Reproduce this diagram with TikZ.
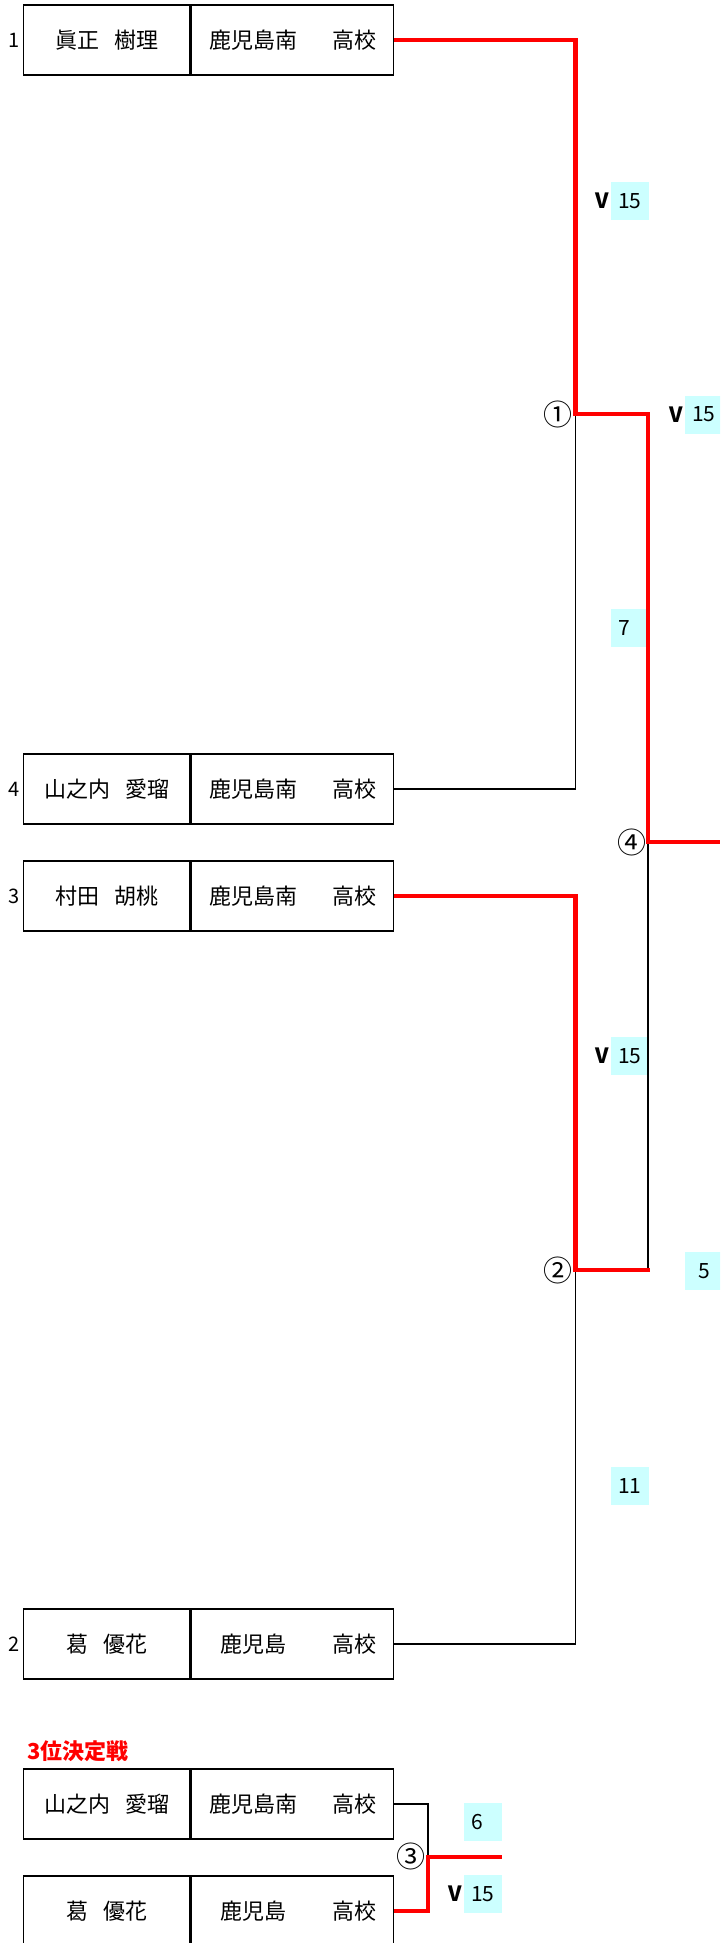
\documentclass[tikz,border=0pt]{standalone}
\usepackage{fontspec}
\setmainfont{Noto Sans CJK JP}
\usetikzlibrary{positioning}
\definecolor{sky}{HTML}{CCFFFF}
\newcommand{\pl}[4]{\node[namebox] (#1) at (22.7,#2) {#3};
  \node[schoolbox, right=0pt of #1] (#1s) {\makebox[124pt]{#4}\makebox[78pt]{高校}};}
\newcommand{\scorebox}[4]{\node[score] (#1) at (#2,#3) {#4};}

\begin{document}
\begin{tikzpicture}[x=1pt, y=-1pt,
  namebox/.style={draw, line width=1.7pt, minimum width=166.3pt, minimum height=70pt, inner sep=0pt, anchor=west, font=\fontsize{22}{26}\selectfont},
  schoolbox/.style={draw, line width=1.7pt, minimum width=202pt, minimum height=70pt, inner sep=0pt, font=\fontsize{22}{26}\selectfont},
  seed/.style={inner sep=1pt, font=\fontsize{20}{22}\selectfont},
  score/.style={fill=sky, anchor=west, minimum height=38pt, text width=24pt, inner xsep=7pt, inner ysep=0pt, align=left, font=\fontsize{21}{24}\selectfont},
  vmark/.style={inner sep=2pt, font=\bfseries\fontsize{21}{24}\selectfont},
  rnd/.style={inner sep=0pt, font=\fontsize{29}{30}\selectfont},
  wire/.style={line width=1.4pt},
  win/.style={line width=4.5pt, red}]
  \useasboundingbox (0,0) rectangle (720,1943);
  \clip (0,0) rectangle (720,1943);
  \pl{p1}{40}{眞正\hspace{.7em}樹理}{鹿児島南}          % 1
  \pl{p4}{789}{山之内\hspace{.7em}愛瑠}{鹿児島南}       % 4
  \pl{p3}{896}{村田\hspace{.7em}胡桃}{鹿児島南}         % 3
  \pl{p2}{1644}{葛\hspace{.7em}優花}{鹿児島}            % 2
  \pl{q1}{1804}{山之内\hspace{.7em}愛瑠}{鹿児島南}      % 3rd
  \pl{q2}{1911}{葛\hspace{.7em}優花}{鹿児島}            % 3rd
  \node[seed, left=2pt of p1] (n1) {1};
  \node[seed, left=2pt of p4] (n4) {4};
  \node[seed, left=2pt of p3] (n3) {3};
  \node[seed, left=2pt of p2] (n2) {2};
  \node[anchor=west, inner sep=0pt, red, font=\bfseries\fontsize{22}{24}\selectfont] (t3) at (27,1751) {3位決定戦};
  \coordinate (j1) at (575.5,414);  \coordinate (j2) at (575.5,1270);
  \coordinate (j4) at (648,842);    \coordinate (fin) at (720,842);
  \coordinate (j3) at (428,1857);   \coordinate (f3) at (502,1857);
  \node[rnd] (c1) at (557.7,414) {①};
  \node[rnd] (c2) at (558,1270) {②};
  \node[rnd] (c3) at (410.5,1856) {③};
  \node[rnd] (c4) at (631.5,842) {④};
  \scorebox{s1}{611}{201}{15}   \node[vmark, left=0pt of s1] (v1) {V};
  \scorebox{s2}{685}{414.5}{15} \node[vmark, left=0pt of s2] (v2) {V};
  \scorebox{s3}{611}{628}{7}
  \scorebox{s4}{611}{1056}{15}  \node[vmark, left=0pt of s4] (v4) {V};
  \node[score, align=center] (s5) at (685,1271) {5};
  \scorebox{s6}{611}{1486}{11}
  \scorebox{s7}{464}{1822}{6}
  \scorebox{s8}{464}{1894}{15}  \node[vmark, left=0pt of s8] (v8) {V};
  % lines
  \draw[wire] (p4s.east) -| (j1);
  \draw[wire] (p2s.east) -| (j2);
  \draw[wire] (j2 -| j4) -- (j4);
  \draw[wire] (q1s.east) -| (j3);
  \draw[win] (p1s.east) -| (j1) -| (j4) -- (fin);
  \draw[win] (p3s.east) -| (j2) -- ([xshift=2pt]j2 -| j4);
  \draw[win] (q2s.east) -| (j3) -- (f3);
\end{tikzpicture}
\end{document}
